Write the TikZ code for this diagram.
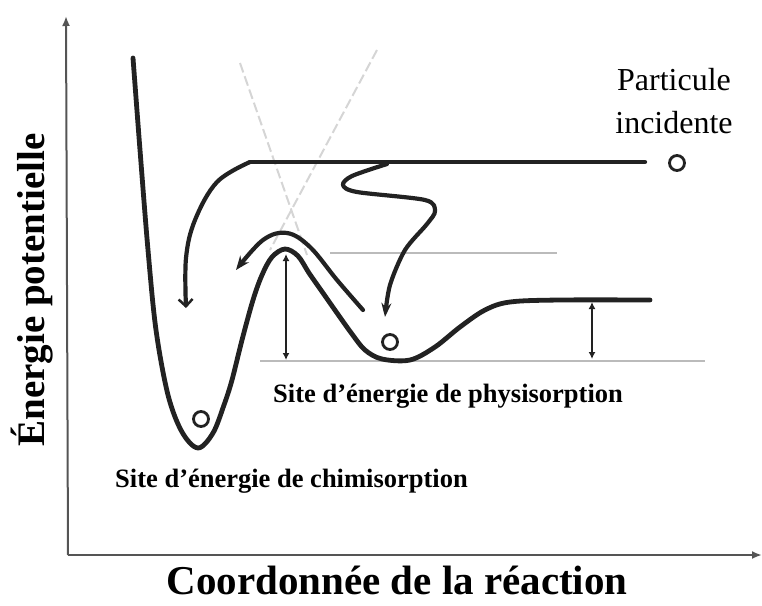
\documentclass[tikz,border=0pt]{standalone}
\usepackage{fontspec}
\setmainfont{Liberation Serif}
\usetikzlibrary{arrows.meta}
\definecolor{ink}{HTML}{222222}
\definecolor{axisgray}{HTML}{555555}
\definecolor{guide}{HTML}{BBBBBB}
\definecolor{faint}{HTML}{D5D5D5}
\begin{document}
\begin{tikzpicture}[x=1pt,y=-1pt,
  curve/.style={ink,line width=4.8pt,line cap=round,line join=round},
  path arrow/.style={ink,line width=4.2pt,line cap=round,line join=round},
  axisline/.style={axisgray,line width=2pt,-{Latex[length=10pt,width=8pt]}},
  guideline/.style={guide,line width=2pt},
  crossline/.style={faint,line width=2pt,dash pattern=on 10pt off 4pt},
  gap/.style={ink,line width=1.8pt,{Latex[length=7pt,width=7pt]}-{Latex[length=7pt,width=7pt]}},
  ball/.style={circle,draw=ink,line width=2.8pt,minimum size=15pt,inner sep=0pt},
  lbl/.style={font=\bfseries\fontsize{26.5}{30}\selectfont,inner sep=0pt}]
\useasboundingbox (0,0) rectangle (762,605);

% axes
\coordinate (O) at (68,555);
\coordinate (Ytop) at (66,16);
\coordinate (Xend) at (762,555);
\draw[axisline] (O) -- (Ytop);
\draw[axisline] (O) -- (Xend);

% faint crossing lines
\draw[crossline] (240,63) -- (307,255);
\draw[crossline] (377,50) -- (270,250);

% grey reference levels
\draw[guideline] (330,253) -- (557,253);
\draw[guideline] (260,361) -- (705,361);

% potential curve
\draw[curve] plot[smooth,tension=0.55] coordinates {
 (133,58) (140,150) (148,250) (156,330) (168,395) (182,432) (198,448)
 (213,433) (224,405) (232,380) (242,340) (253,300) (262,275) (272,257)
 (285,249) (298,256) (309,273) (323,293) (337,313) (352,334) (365,350)
 (382,359) (410,360) (435,347) (460,327) (485,310) (510,302) (560,300) (650,300)};

% incident line and left arrow
\draw[path arrow] (645,162) -- (250,162);
\draw[path arrow,-{Straight Barb[length=7pt,width=14pt,line width=2.5pt]}]
  plot[smooth,tension=0.6] coordinates {(250,162) (217,182) (195,220) (186,258) (186,308)};

% wiggle arrow
\draw[path arrow,-{Stealth[length=14pt,width=10pt]}]
  plot[smooth,tension=0.5] coordinates {(387,164) (352,176) (343,185) (357,192) (425,200) (435,211) (427,224) (405,250) (390,285) (385,317)};

% arc arrow over the barrier
\draw[path arrow,-{Stealth[length=14pt,width=11pt]}]
  plot[smooth,tension=0.6] coordinates {(363,310) (337,280) (310,247) (287,233) (263,240) (236,270)};

% energy gaps
\coordinate (g1t) at (286,254);
\coordinate (g1b) at (286,360);
\coordinate (g2t) at (592,302);
\coordinate (g2b) at (592,359);
\draw[gap] (g1t) -- (g1b);
\draw[gap] (g2t) -- (g2b);

% particles
\node[ball] (pinc) at (677,163) {};
\node[ball] (pphys) at (390,342) {};
\node[ball] (pchem) at (201,419) {};

% labels
\node[font=\fontsize{32}{36}\selectfont,inner sep=0pt,anchor=base] (tpart) at (674,90) {Particule};
\node[font=\fontsize{32}{36}\selectfont,inner sep=0pt,anchor=base] (tinc) at (674,133) {incidente};
\node[lbl,anchor=base west] (tphys) at (273,402) {Site d’énergie de physisorption};
\node[lbl,anchor=base west] (tchem) at (115,487) {Site d’énergie de chimisorption};
\node[font=\bfseries\fontsize{39}{42}\selectfont,inner sep=0pt,rotate=90,anchor=base] (ylab) at (44,290) {Énergie potentielle};
\node[font=\bfseries\fontsize{41}{46}\selectfont,inner sep=0pt,anchor=base] (xlab) at (397,594) {Coordonnée de la réaction};
\end{tikzpicture}
\end{document}
